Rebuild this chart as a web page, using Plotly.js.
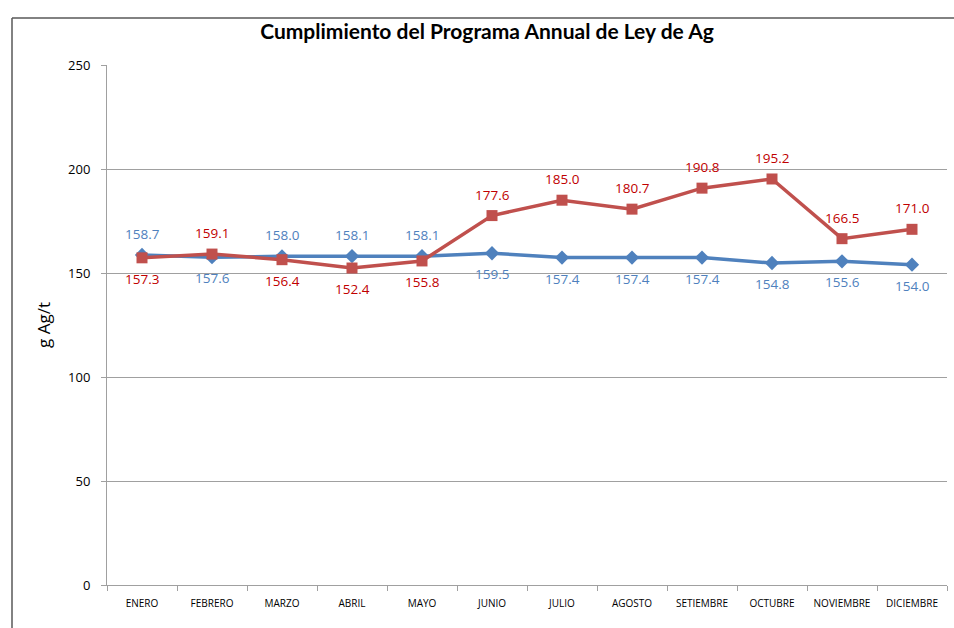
<!DOCTYPE html>
<html><head><meta charset="utf-8">
<script src="https://cdn.plot.ly/plotly-3.0.1.min.js"></script>
<style>html,body{margin:0;padding:0;background:#fff}#chart{width:954px;height:628px}</style>
</head><body><div id="chart"></div>
<script>
const months = ["ENERO","FEBRERO","MARZO","ABRIL","MAYO","JUNIO","JULIO","AGOSTO","SETIEMBRE","OCTUBRE","NOVIEMBRE","DICIEMBRE"];
const programa = [158.7,157.6,158.0,158.1,158.1,159.5,157.4,157.4,157.4,154.8,155.6,154.0];
const ejecutado = [157.3,159.1,156.4,152.4,155.8,177.6,185.0,180.7,190.8,195.2,166.5,171.0];
const yTicks = [0,50,100,150,200,250];

const blue = "#4F81BD", red = "#C0504D";
const lblFont = "Open Sans, DejaVu Sans, sans-serif";

const traces = [
 {x: months, y: programa, type:"scatter", mode:"lines+markers", name:"Programa",
  line:{color:blue, width:3.5}, marker:{symbol:"diamond", size:11, color:blue}, cliponaxis:false},
 {x: months, y: ejecutado, type:"scatter", mode:"lines+markers", name:"Ejecutado",
  line:{color:red, width:3.5}, marker:{symbol:"square", size:11, color:red}, cliponaxis:false}
];

const annotations = [];
months.forEach((m,i)=>{
  const blueUp = programa[i] >= ejecutado[i];
  annotations.push({x:m, y:programa[i], xref:"x", yref:"y", text:programa[i].toFixed(1), showarrow:false,
    yshift: blueUp ? 21 : -21, font:{family:lblFont, size:13.5, color:blue}});
  annotations.push({x:m, y:ejecutado[i], xref:"x", yref:"y", text:ejecutado[i].toFixed(1), showarrow:false,
    yshift: blueUp ? -21 : 21, font:{family:lblFont, size:13.5, color:"#C00000"}});
});
const px = (x)=> (x-107)/840, py = (y)=> (585-y)/520;

const layout = {
 width:954, height:628, showlegend:false,
 paper_bgcolor:"#fff", plot_bgcolor:"#fff",
 margin:{l:107, r:7, t:65, b:43},
 title:{text:"<b>Cumplimiento del Programa Annual de Ley de Ag</b>", xref:"container", x:0.5105, xanchor:"center",
        yref:"container", y:1-32/628, yanchor:"middle", font:{family:"Lato, sans-serif", size:21, color:"#000"}},
 xaxis:{type:"category", range:[-0.5, 11.5], showgrid:false, showline:true, linecolor:"#a0a0a0", linewidth:1,
        ticks:"outside", tickson:"boundaries", ticklen:5, tickcolor:"#a0a0a0",
        ticklabelstandoff:9, tickangle:0,
        tickfont:{family:lblFont, size:10, color:"#000"}},
 yaxis:{range:[0,250], tickvals:yTicks, ticktext:yTicks.map(String), showgrid:true, gridcolor:"#a0a0a0", gridwidth:1,
        zeroline:false, showline:true, linecolor:"#a0a0a0", ticks:"outside", ticklen:5, tickcolor:"#a0a0a0",
        ticklabelstandoff:8, tickfont:{family:lblFont, size:13, color:"#000"},
        title:{text:"g Ag/t", standoff:13, font:{family:lblFont, size:17, color:"#000"}}},
 shapes:[
  {type:"line", xref:"paper", yref:"paper", x0:px(12), x1:px(960), y0:py(18), y1:py(18), line:{color:"#595959", width:1.5}},
  {type:"line", xref:"paper", yref:"paper", x0:px(12), x1:px(12), y0:py(18), y1:py(640), line:{color:"#595959", width:1.5}}
 ],
 annotations: annotations
};
Plotly.newPlot("chart", traces, layout, {displayModeBar:false, staticPlot:true});
</script></body></html>
